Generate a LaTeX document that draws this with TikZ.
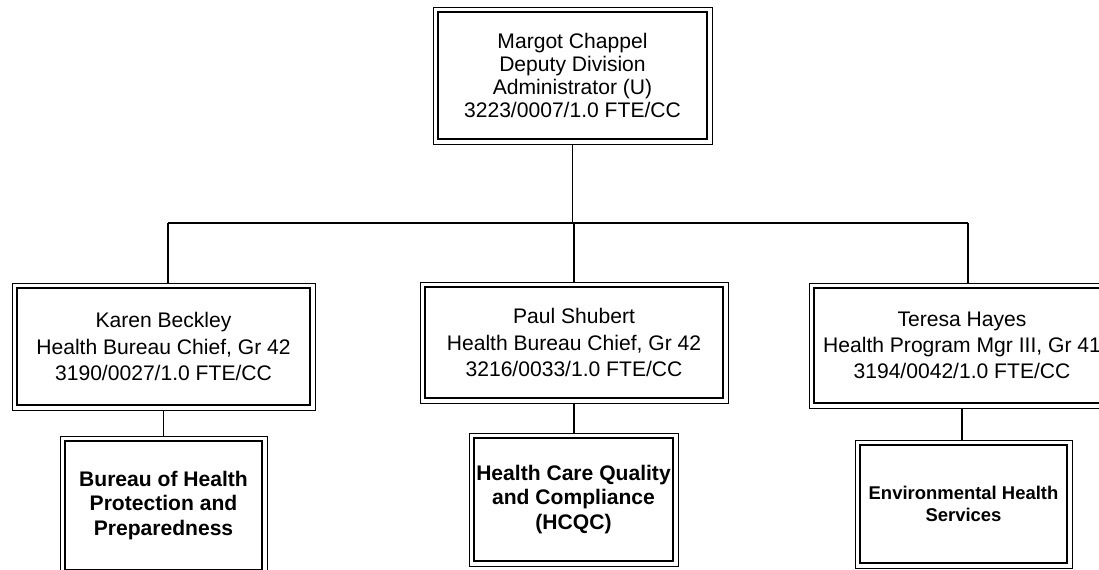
\documentclass[tikz,border=0pt]{standalone}
\usepackage{fontspec}
\setmainfont{Liberation Sans}

\tikzset{
  orgbox/.style={draw, line width=0.5pt, inner sep=0pt, align=center,
    font=\fontsize{12}{15}\selectfont,
    path picture={\draw[line width=1.5pt]
      ([shift={(0.1cm,0.1cm)}]path picture bounding box.south west) rectangle
      ([shift={(-0.1cm,-0.1cm)}]path picture bounding box.north east);}},
  unitbox/.style={orgbox, font=\bfseries\fontsize{12}{14}\selectfont},
  conn/.style={black, line width=0.8pt}
}

\begin{document}
\begin{tikzpicture}[x=0.02cm, y=0.02cm]

\useasboundingbox (0,0) rectangle (1099,570);
\clip (0,0) rectangle (1099,570);

% deputy administrator
\node (margot) at (572.5,494.5) [orgbox, minimum width=5.58cm, minimum height=2.74cm,
  font=\fontsize{12}{13}\selectfont]
  {Margot Chappel\\Deputy Division\\Administrator (U)\\3223/0007/1.0 FTE/CC};

% bureau chiefs
\node (karen) at (163.5,223.5) [orgbox, minimum width=6.06cm, minimum height=2.54cm]
  {Karen Beckley\\Health Bureau Chief, Gr 42\\3190/0027/1.0 FTE/CC};
\node (paul) at (574,227.5) [orgbox, minimum width=6.16cm, minimum height=2.42cm]
  {Paul Shubert\\Health Bureau Chief, Gr 42\\3216/0033/1.0 FTE/CC};
\node (teresa) at (962,224.5) [orgbox, minimum width=6.12cm, minimum height=2.5cm]
  {Teresa Hayes\\Health Program Mgr III, Gr 41\\3194/0042/1.0 FTE/CC};

% units
\node (bhpp) at (163.5,64.5) [unitbox, minimum width=4.14cm, minimum height=2.78cm]
  {Bureau of Health\\Protection and\\Preparedness};
\node (hcqc) at (573.5,70.5) [unitbox, minimum width=4.18cm, minimum height=2.66cm]
  {Health Care Quality\\and Compliance\\(HCQC)};
\node (ehs) at (963.5,66) [unitbox, minimum width=4.34cm, minimum height=2.56cm,
  font=\bfseries\fontsize{10.5}{12.5}\selectfont]
  {Environmental Health\\Services};

\coordinate (busL) at (168,347);
\coordinate (busR) at (968,347);

\draw[conn] (margot.south) -- (margot.south |- busL);
\draw[conn] (busL) -- (busR);
\draw[conn] (busL) -- (busL |- karen.north);
\draw[conn] (paul.north |- busL) -- (paul.north);
\draw[conn] (busR) -- (busR |- teresa.north);

\draw[conn] (karen.south) -- (bhpp.north);
\draw[conn] (paul.south) -- (paul.south |- hcqc.north);
\draw[conn] (teresa.south) -- (teresa.south |- ehs.north);

\end{tikzpicture}
\end{document}
